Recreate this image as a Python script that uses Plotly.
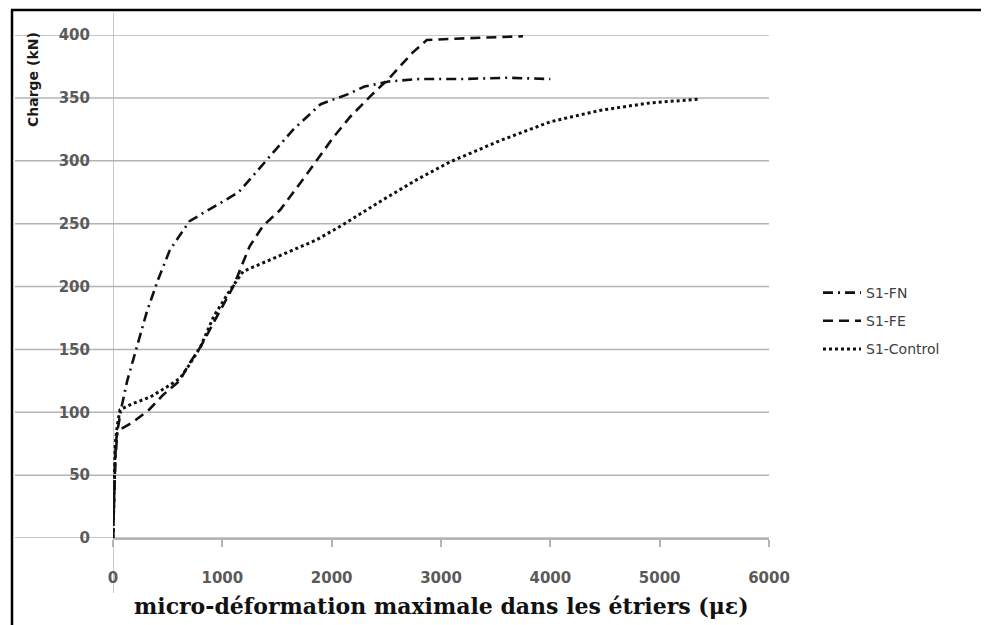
import plotly.graph_objects as go

# ---- data ----
fn_x = [0, 5, 10, 20, 40, 80, 130, 220, 310, 410, 520, 700, 900, 1150, 1400, 1650, 1900, 2150, 2300, 2520, 2800, 3200, 3600, 4000]
fn_y = [0, 20, 40, 60, 85, 105, 125, 153, 180, 205, 229, 252, 262, 275, 300, 325, 345, 353, 359, 363, 365, 365, 366, 365]

fe_x = [0, 5, 10, 15, 25, 40, 100, 180, 330, 460, 610, 700, 800, 920, 1020, 1100, 1250, 1370, 1530, 1770, 2010, 2170, 2350, 2530, 2740, 2870, 3100, 3400, 3750]
fe_y = [0, 20, 40, 60, 75, 85, 88, 92, 102, 114, 125, 139, 152, 171, 187, 200, 232, 248, 261, 289, 318, 335, 351, 366, 386, 396, 397, 398, 399]

ctl_x = [0, 5, 10, 15, 20, 40, 64, 183, 338, 491, 613, 700, 800, 920, 1070, 1190, 1400, 1650, 1860, 2100, 2470, 2780, 3080, 3540, 4000, 4450, 4910, 5370]
ctl_y = [0, 20, 40, 60, 75, 90, 102, 107, 112, 120, 127, 138, 152, 176, 197, 212, 220, 229, 237, 249, 269, 285, 299, 316, 331, 340, 346, 349]

x_ticks = [0, 1000, 2000, 3000, 4000, 5000, 6000]
y_ticks = [0, 50, 100, 150, 200, 250, 300, 350, 400]

series_names = ["S1-FN", "S1-FE", "S1-Control"]

OFF = 8  # page body margin
W, H = 989 - OFF, 625 - OFF
L, T = 113 - OFF, 35 - OFF
R, B = W - (769 - OFF), H - (538 - OFF)
PW, PH = W - L - R, H - T - B

def px_x(p):
    # p: pixel in page coords
    return (p - OFF - L) / PW

def px_y(p):
    return (H - B - (p - OFF)) / PH

fig = go.Figure()
fig.add_trace(go.Scatter(x=fn_x, y=fn_y, mode="lines", name=series_names[0], legendgroup="a",
                         line=dict(color="#111111", width=2.6, dash="10px,5px,2px,5px")))
fig.add_trace(go.Scatter(x=fe_x, y=fe_y, mode="lines", name=series_names[1], legendgroup="b",
                         line=dict(color="#111111", width=2.6, dash="10px,6px")))
fig.add_trace(go.Scatter(x=ctl_x, y=ctl_y, mode="lines", name=series_names[2], legendgroup="c",
                         line=dict(color="#111111", width=3, dash="dot")))

shapes = []
grid_col = "#b4b4b4"
for v in y_ticks:
    shapes.append(dict(type="line", xref="paper", yref="y", x0=px_x(15), x1=1.0, y0=v, y1=v,
                       line=dict(color=grid_col, width=1.5), layer="below"))
shapes.append(dict(type="line", xref="x", yref="paper", x0=0, x1=0, y0=px_y(593), y1=px_y(13),
                   line=dict(color=grid_col, width=1.5), layer="below"))
shapes.append(dict(type="line", xref="paper", yref="paper", x0=px_x(11), x1=px_x(989), y0=px_y(10), y1=px_y(10),
                   line=dict(color="#000000", width=2.5)))
shapes.append(dict(type="line", xref="paper", yref="paper", x0=px_x(12), x1=px_x(12), y0=px_y(10), y1=px_y(625),
                   line=dict(color="#000000", width=2.5)))

annotations = [
    dict(text="<b>Charge (kN)</b>", xref="paper", yref="paper", x=px_x(33), y=px_y(80), textangle=-90,
         showarrow=False, font=dict(family="DejaVu Sans", size=14, color="#1a1a1a"), xanchor="center", yanchor="middle"),
    dict(text="<b>micro-déformation maximale dans les étriers (με)</b>", xref="paper", yref="paper",
         x=px_x(441), y=px_y(606), showarrow=False,
         font=dict(family="DejaVu Serif", size=22, color="#111111"), xanchor="center", yanchor="middle"),
]

tick_font = dict(family="DejaVu Sans", size=15, color="#5a5a5a")

fig.update_layout(
    width=W, height=H, autosize=False,
    margin=dict(l=L, r=R, t=T, b=B, pad=0),
    paper_bgcolor="white", plot_bgcolor="white",
    shapes=shapes, annotations=annotations,
    showlegend=True,
    legend=dict(x=px_x(818), y=px_y(277), xanchor="left", yanchor="top",
                font=dict(family="DejaVu Sans", size=14, color="#404040"),
                tracegroupgap=7, itemwidth=38, bgcolor="rgba(0,0,0,0)"),
    xaxis=dict(range=[0, 6000], tickvals=x_ticks, ticktext=["<b>%d</b>" % v for v in x_ticks],
               showgrid=False, zeroline=False, showline=True, linecolor=grid_col, linewidth=1.5,
               ticks="outside", ticklen=7, tickcolor=grid_col, tickwidth=1.5,
               tickfont=tick_font, ticklabelstandoff=18),
    yaxis=dict(range=[0, 400], tickvals=y_ticks, ticktext=["<b>%d</b>" % v for v in y_ticks],
               showgrid=False, zeroline=False, showline=False, ticks="",
               tickfont=tick_font, ticklabelstandoff=22),
)

fig.write_html("out.html")
